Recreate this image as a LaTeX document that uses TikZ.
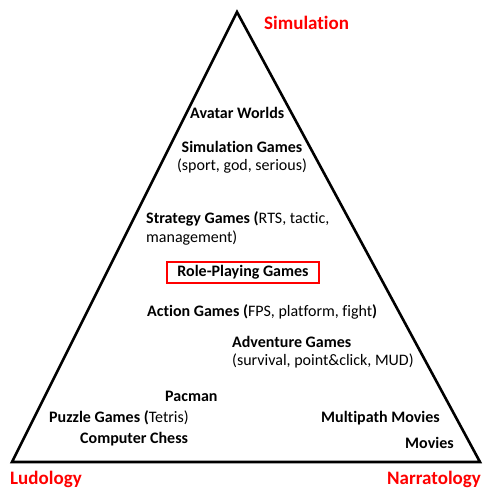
\documentclass[tikz,border=0pt]{standalone}
\usepackage{fontspec}
\setmainfont{Carlito}[Ligatures=NoCommon]
\definecolor{lblred}{RGB}{255,0,0}
\tikzset{
  item/.style={anchor=base west, inner sep=0pt, font=\fontsize{16}{19}\selectfont},
  itemc/.style={anchor=base, inner sep=0pt, font=\fontsize{16}{19}\selectfont},
  corner/.style={anchor=base west, inner sep=0pt, text=lblred, font=\fontsize{19}{23}\selectfont\bfseries},
  tri/.style={draw=black, line width=2.6pt, line join=miter},
  rpgbox/.style={draw=lblred, line width=1.1pt, minimum width=152pt, minimum height=21pt, inner sep=0pt, font=\fontsize{16}{19}\selectfont\bfseries}
}
\begin{document}
\begin{tikzpicture}[x=1pt,y=-1pt]
\useasboundingbox (0,0) rectangle (483,488);
\coordinate (apex) at (237,12);
\coordinate (bl) at (12,462);
\coordinate (br) at (480,462);
\draw[tri] (apex) -- (br) -- (bl) -- cycle;
\node[corner] (sim) at (264,29) {Simulation};
\node[corner] (lud) at (10,484) {Ludology};
\node[corner] (nar) at (387,484) {Narratology};
\node[item] (avatar) at (190,118) {\bfseries Avatar Worlds};
\node[itemc] (simg) at (242,152) {\bfseries Simulation Games};
\node[itemc] (simd) at (242,170) {(sport, god, serious)};
\node[item] (strat) at (146,223) {\textbf{Strategy Games (}RTS, tactic,};
\node[item] (strat2) at (146,242) {management)};
\node[rpgbox] (rpg) at (243,272.5) {Role-Playing Games};
\node[item] (action) at (147,316) {\textbf{Action Games (}FPS, platform, fight\textbf{)}};
\node[item] (adv) at (232,347) {\bfseries Adventure Games};
\node[item] (adv2) at (232,365) {(survival, point\&click, MUD)};
\node[item] (pac) at (165,401) {\bfseries Pacman};
\node[item] (puz) at (49,422) {\textbf{Puzzle Games (}Tetris)};
\node[item] (chess) at (80,443) {\bfseries Computer Chess};
\node[item] (multi) at (321,422) {\bfseries Multipath Movies};
\node[item] (mov) at (405,448) {\bfseries Movies};
\end{tikzpicture}
\end{document}
